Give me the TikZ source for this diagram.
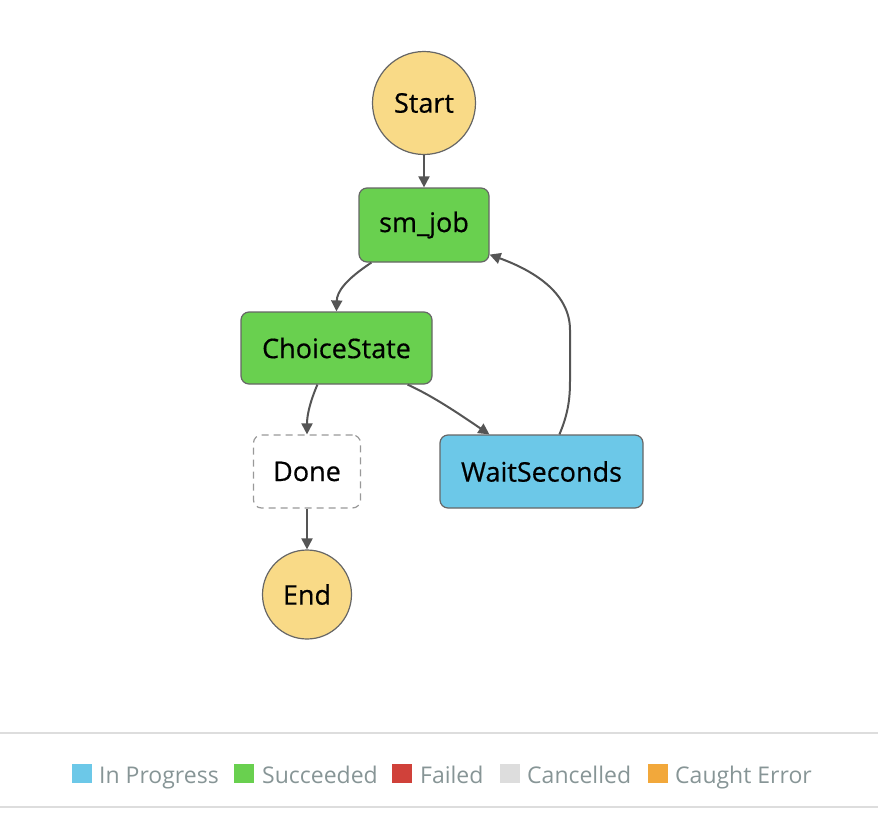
\documentclass[tikz,border=0pt]{standalone}
\usepackage{fontspec}
\setmainfont{Open Sans}
\newfontfamily\statefont[FakeBold=0.5]{Open Sans}
\usetikzlibrary{arrows.meta}
\definecolor{startfill}{HTML}{F9DA87}
\definecolor{okgreen}{HTML}{69D04F}
\definecolor{runblue}{HTML}{6CC8E8}
\definecolor{failred}{HTML}{D0413A}
\definecolor{cancelgray}{HTML}{DDDDDD}
\definecolor{caughtorange}{HTML}{F2A83B}
\definecolor{edgegray}{HTML}{555555}
\definecolor{bordergray}{HTML}{666666}
\definecolor{legendtext}{HTML}{879596}
\begin{document}
\begin{tikzpicture}[x=1pt,y=-1pt,
	flow/.style={draw=edgegray,line width=2pt,-{Triangle[length=11pt,width=11pt]}},
	terminal/.style={circle,draw=bordergray,line width=1.2pt,fill=startfill,inner sep=0pt,font=\statefont\fontsize{27}{31}\selectfont},
	state/.style={rectangle,rounded corners=8pt,draw=bordergray,line width=1.2pt,inner sep=0pt,font=\statefont\fontsize{27}{31}\selectfont},
	legbox/.style={fill=#1,minimum width=20pt,minimum height=19pt,inner sep=0pt,anchor=south west},
	legtext/.style={anchor=base west,inner sep=0pt,text=legendtext,font=\fontsize{23}{27}\selectfont}]
	\useasboundingbox (0,0) rectangle (878,814);
	\def\rs{103pt} % Start
	\def\re{89pt} % End
	% trạng thái
	\node[terminal,minimum size=\rs] (start) at (424,103) {Start};
	\node[state,fill=okgreen,minimum width=130pt,minimum height=74pt] (smjob) at (424,225) {sm\_job};
	\node[state,fill=okgreen,minimum width=191pt,minimum height=72pt] (choice) at (336.5,348) {ChoiceState};
	\node[state,fill=white,draw=gray!80,dashed,dash pattern=on 7pt off 5pt,minimum width=107pt,minimum height=73pt] (done) at (307,471.5) {Done};
	\node[state,fill=runblue,minimum width=203pt,minimum height=73pt] (wait) at (541.5,471.5) {WaitSeconds};
	\node[terminal,minimum size=\re] (end) at (307,594.5) {End};
	% mũi tên
	\draw[flow] (start.south) -- (smjob.north);
	\draw[flow] ([xshift=13pt]smjob.south west) .. controls (345,280) and (337,292) .. ([xshift=96pt]choice.north west);
	\draw[flow] ([xshift=77pt]choice.south west) .. controls (310,402) and (307,415) .. (done.north);
	\draw[flow] ([xshift=-25pt]choice.south east) .. controls (435,397) and (465,418) .. ([xshift=50pt]wait.north west);
	\draw[flow] ([xshift=120pt]wait.north west) .. controls (569,412) and (570,396) .. (570,380) -- (570,330) .. controls (570,292) and (532,270) .. ([yshift=8pt]smjob.south east);
	\draw[flow] (done.south) -- (end.north);
	% chú thích
	\draw[cancelgray,line width=2pt] (0,733) coordinate (l1) -- (878,733) coordinate (l2);
	\draw[cancelgray,line width=2pt] (0,807) coordinate (l3) -- (878,807) coordinate (l4);
	\node[legbox=runblue] (k1) at (72,783) {};
	\node[legtext] (t1) at (99,783) {In Progress};
	\node[legbox=okgreen] (k2) at (234,783) {};
	\node[legtext] (t2) at (262,783) {Succeeded};
	\node[legbox=failred] (k3) at (392,783) {};
	\node[legtext] (t3) at (420,783) {Failed};
	\node[legbox=cancelgray] (k4) at (500,783) {};
	\node[legtext] (t4) at (527,783) {Cancelled};
	\node[legbox=caughtorange] (k5) at (648,783) {};
	\node[legtext] (t5) at (675,783) {Caught Error};
\end{tikzpicture}
\end{document}
